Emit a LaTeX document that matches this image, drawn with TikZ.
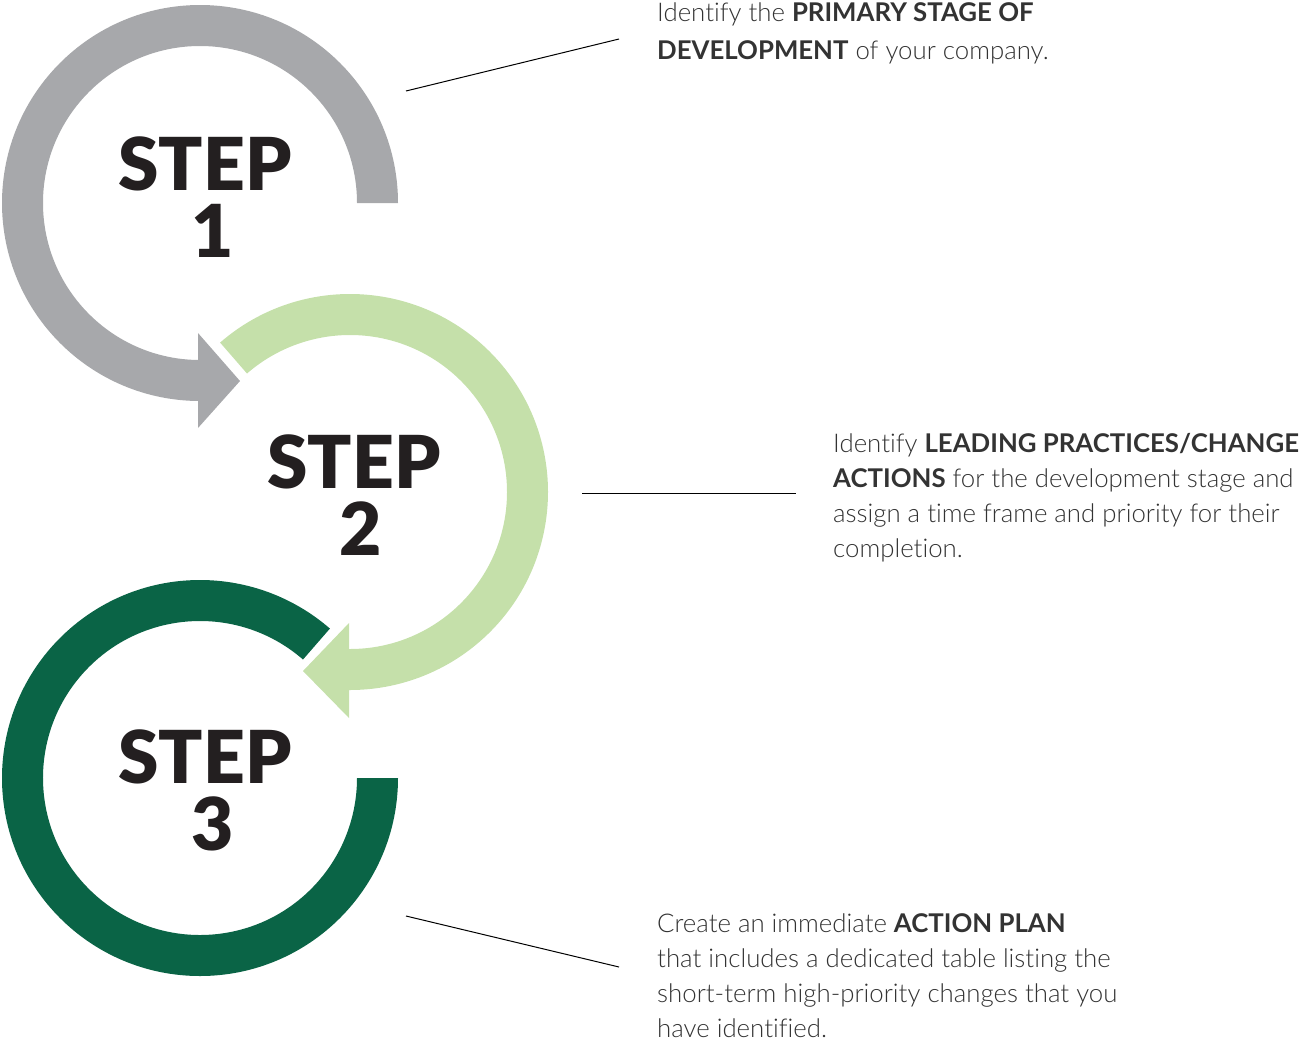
\documentclass[tikz,border=0pt]{standalone}
\usepackage{fontspec}
\usetikzlibrary{calc}
\IfFontExistsTF{Lato Light}{\newfontfamily\lightf{Lato Light}[Ligatures=NoCommon]}{\newfontfamily\lightf{Lato}[Ligatures=NoCommon]}
\IfFontExistsTF{Lato Black}{\newfontfamily\blackf{Lato Black}}{\newfontfamily\blackf{Lato}[UprightFont=*-Bold]}
\setmainfont{Lato}
\definecolor{stepgray}{HTML}{A7A8AB}
\definecolor{steplight}{HTML}{C5E0AA}
\definecolor{stepdark}{HTML}{0A6446}
\definecolor{ink}{HTML}{231F20}
\definecolor{bodyink}{HTML}{333333}
\newcommand{\hb}[1]{{\rmfamily\bfseries #1}}
\begin{document}
\begin{tikzpicture}[x=1pt,y=1pt,
  steplabel/.style={inner sep=0pt, align=center, text=ink,
    font=\blackf\fontsize{73}{67}\selectfont},
  desc/.style={inner sep=0pt, align=left, anchor=base west, text=bodyink},
  leader/.style={draw=black, line width=1pt}]
\path[use as bounding box] (0,0) rectangle (1301,-1042);

% centres
\coordinate (c1) at (200,-203);
\coordinate (c2) at (350,-492);
\coordinate (c3) at (200,-778);

% step 1 ring with arrow (grey)
\fill[stepgray] ($(c1)+(0:198)$) arc[start angle=0,end angle=270,radius=198]
  -- ++(-2,0) -- ++(0,-27) -- (240,-381) -- (198,-333) -- (198,-360) -- (200,-360)
  arc[start angle=270,end angle=0,radius=157] -- cycle;

% step 2 ring with arrow (light green)
\fill[steplight] ($(c2)+(131:198)$) arc[start angle=131,end angle=-90,radius=198]
  -- ++(-1,0) -- (349,-718) -- (303,-671) -- (349,-623) -- (349,-649) -- (350,-649)
  arc[start angle=-90,end angle=131,radius=157] -- cycle;

% step 3 ring (dark green)
\fill[stepdark] ($(c3)+(0:198)$) arc[start angle=0,end angle=-311,radius=198]
  -- ($(c3)+(49:157)$) arc[start angle=49,end angle=360,radius=157] -- cycle;

% step labels (anchor = baseline of the last line)
\node[steplabel, anchor=base] (s1) at (205,-257) {STEP\\\hspace*{16pt}1};
\node[steplabel, anchor=base] (s2) at (354,-555) {STEP\\\hspace*{14pt}2};
\node[steplabel, anchor=base] (s3) at (205,-850) {STEP\\\hspace*{16pt}3};

% descriptions (anchor = baseline of the last line)
\node[desc, font=\lightf\fontsize{25.8}{37.5}\selectfont] (d1) at (657,-59.3)
  {Identify the \hb{PRIMARY STAGE OF}\\\hb{DEVELOPMENT} of your company.};
\node[desc, font=\lightf\fontsize{25.8}{35}\selectfont] (d2) at (833,-557)
  {Identify \hb{LEADING PRACTICES/CHANGE}\\\hb{ACTIONS} for the development stage and\\assign a time frame and priority for their\\completion.};
\node[desc, font=\lightf\fontsize{25.8}{35}\selectfont] (d3) at (657,-1037)
  {Create an immediate \hb{ACTION PLAN}\\that includes a dedicated table listing the\\short-term high-priority changes that you\\have identified.};

% leader lines
\coordinate (l1a) at (406,-91);  \coordinate (l1b) at (619,-39);
\coordinate (l2a) at (582,-493); \coordinate (l2b) at (796,-493);
\coordinate (l3a) at (406,-916); \coordinate (l3b) at (619,-967);
\draw[leader] (l1a) -- (l1b);
\draw[leader] (l2a) -- (l2b);
\draw[leader] (l3a) -- (l3b);
\end{tikzpicture}
\end{document}
